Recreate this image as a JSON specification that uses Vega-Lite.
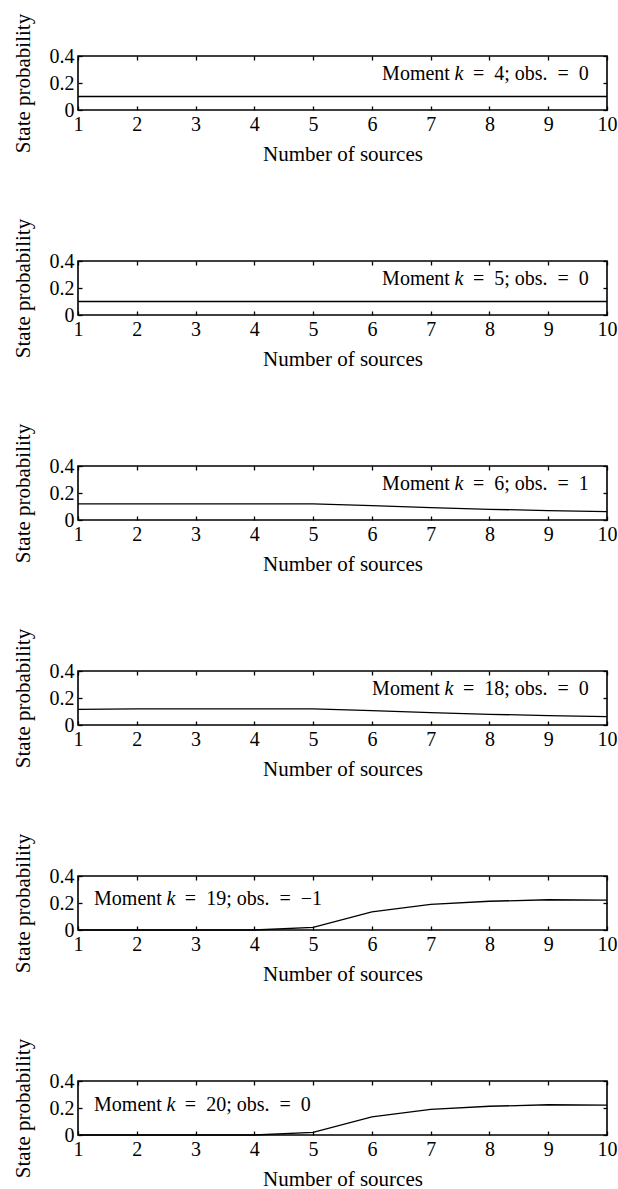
{
  "$schema": "https://vega.github.io/schema/vega-lite/v6.json",
  "padding": {"left": 11, "top": 12, "right": 0, "bottom": 0},
  "background": "white",
  "spacing": 151,
  "bounds": "flush",
  "config": {
    "view": {"stroke": "black", "strokeWidth": 1.6},
    "font": "Liberation Serif, Times New Roman, DejaVu Serif, serif",
    "text": {"font": "Liberation Serif, Times New Roman, DejaVu Serif, serif", "fontSize": 20, "color": "black", "baseline": "alphabetic"},
    "axis": {
      "grid": false,
      "domain": false,
      "labelFlush": false,
      "tickColor": "black",
      "tickWidth": 1.3,
      "tickSize": -4,
      "labelColor": "black",
      "labelFont": "Liberation Serif, Times New Roman, DejaVu Serif, serif",
      "labelFontSize": 20,
      "titleColor": "black",
      "titleFont": "Liberation Serif, Times New Roman, DejaVu Serif, serif",
      "titleFontSize": 21,
      "titleFontWeight": "normal"
    }
  },
  "datasets": {
    "lines": [
      {"panel": 1, "n": 1, "p": 0.1}, {"panel": 1, "n": 2, "p": 0.1}, {"panel": 1, "n": 3, "p": 0.1}, {"panel": 1, "n": 4, "p": 0.1}, {"panel": 1, "n": 5, "p": 0.1},
      {"panel": 1, "n": 6, "p": 0.1}, {"panel": 1, "n": 7, "p": 0.1}, {"panel": 1, "n": 8, "p": 0.1}, {"panel": 1, "n": 9, "p": 0.1}, {"panel": 1, "n": 10, "p": 0.1},
      {"panel": 2, "n": 1, "p": 0.1}, {"panel": 2, "n": 2, "p": 0.1}, {"panel": 2, "n": 3, "p": 0.1}, {"panel": 2, "n": 4, "p": 0.1}, {"panel": 2, "n": 5, "p": 0.1},
      {"panel": 2, "n": 6, "p": 0.1}, {"panel": 2, "n": 7, "p": 0.1}, {"panel": 2, "n": 8, "p": 0.1}, {"panel": 2, "n": 9, "p": 0.1}, {"panel": 2, "n": 10, "p": 0.1},
      {"panel": 3, "n": 1, "p": 0.12}, {"panel": 3, "n": 2, "p": 0.12}, {"panel": 3, "n": 3, "p": 0.12}, {"panel": 3, "n": 4, "p": 0.12}, {"panel": 3, "n": 5, "p": 0.12},
      {"panel": 3, "n": 6, "p": 0.106}, {"panel": 3, "n": 7, "p": 0.091}, {"panel": 3, "n": 8, "p": 0.079}, {"panel": 3, "n": 9, "p": 0.07}, {"panel": 3, "n": 10, "p": 0.062},
      {"panel": 4, "n": 1, "p": 0.116}, {"panel": 4, "n": 2, "p": 0.12}, {"panel": 4, "n": 3, "p": 0.12}, {"panel": 4, "n": 4, "p": 0.12}, {"panel": 4, "n": 5, "p": 0.12},
      {"panel": 4, "n": 6, "p": 0.106}, {"panel": 4, "n": 7, "p": 0.091}, {"panel": 4, "n": 8, "p": 0.079}, {"panel": 4, "n": 9, "p": 0.07}, {"panel": 4, "n": 10, "p": 0.062},
      {"panel": 5, "n": 1, "p": 0}, {"panel": 5, "n": 2, "p": 0}, {"panel": 5, "n": 3, "p": 0}, {"panel": 5, "n": 4, "p": 0}, {"panel": 5, "n": 5, "p": 0.02},
      {"panel": 5, "n": 6, "p": 0.135}, {"panel": 5, "n": 7, "p": 0.19}, {"panel": 5, "n": 8, "p": 0.213}, {"panel": 5, "n": 9, "p": 0.224}, {"panel": 5, "n": 10, "p": 0.221},
      {"panel": 6, "n": 1, "p": 0}, {"panel": 6, "n": 2, "p": 0}, {"panel": 6, "n": 3, "p": 0}, {"panel": 6, "n": 4, "p": 0}, {"panel": 6, "n": 5, "p": 0.02},
      {"panel": 6, "n": 6, "p": 0.135}, {"panel": 6, "n": 7, "p": 0.19}, {"panel": 6, "n": 8, "p": 0.213}, {"panel": 6, "n": 9, "p": 0.224}, {"panel": 6, "n": 10, "p": 0.221}
    ],
    "notes": [
      {"panel": 1, "kx": 7.48, "ky": 0.22, "pre": "Moment", "k": "k", "rest": "=\u20024; obs.\u2002=\u20020"},
      {"panel": 2, "kx": 7.48, "ky": 0.22, "pre": "Moment", "k": "k", "rest": "=\u20025; obs.\u2002=\u20020"},
      {"panel": 3, "kx": 7.48, "ky": 0.22, "pre": "Moment", "k": "k", "rest": "=\u20026; obs.\u2002=\u20021"},
      {"panel": 4, "kx": 7.31, "ky": 0.22, "pre": "Moment", "k": "k", "rest": "=\u200218; obs.\u2002=\u20020"},
      {"panel": 5, "kx": 2.58, "ky": 0.183, "pre": "Moment", "k": "k", "rest": "=\u200219; obs.\u2002=\u2002−1"},
      {"panel": 6, "kx": 2.58, "ky": 0.18, "pre": "Moment", "k": "k", "rest": "=\u200220; obs.\u2002=\u20020"}
    ]
  },
  "vconcat": [
    {"width": 529, "height": 54, "resolve": {"axis": {"x": "independent", "y": "independent"}},
     "layer": [
      {"data": {"name": "lines"}, "transform": [{"filter": "datum.panel == 1"}], "mark": {"type": "line", "color": "black", "strokeWidth": 1.3},
       "encoding": {"x": {"field": "n", "type": "quantitative", "scale": {"domain": [1, 10]}, "axis": {"values": [1,2,3,4,5,6,7,8,9,10], "labelPadding": 8, "title": "Number of sources", "titlePadding": 9}},
                    "y": {"field": "p", "type": "quantitative", "scale": {"domain": [0, 0.4]}, "axis": {"values": [0, 0.2, 0.4], "format": ".1~f", "labelPadding": 8, "title": "State probability", "titlePadding": 16}}}},
      {"data": {"name": "lines"}, "transform": [{"filter": "datum.panel == 1"}], "mark": {"type": "line", "opacity": 0},
       "encoding": {"x": {"field": "n", "type": "quantitative", "axis": {"orient": "top", "values": [1,2,3,4,5,6,7,8,9,10], "labels": false, "title": null}},
                    "y": {"field": "p", "type": "quantitative", "axis": {"orient": "right", "values": [0, 0.2, 0.4], "labels": false, "title": null}}}},
      {"data": {"name": "notes"}, "transform": [{"filter": "datum.panel == 1"}], "mark": {"type": "text", "align": "right", "dx": -9},
       "encoding": {"x": {"field": "kx", "type": "quantitative", "axis": null}, "y": {"field": "ky", "type": "quantitative", "axis": null}, "text": {"field": "pre"}}},
      {"data": {"name": "notes"}, "transform": [{"filter": "datum.panel == 1"}], "mark": {"type": "text", "align": "center", "fontStyle": "italic"},
       "encoding": {"x": {"field": "kx", "type": "quantitative", "axis": null}, "y": {"field": "ky", "type": "quantitative", "axis": null}, "text": {"field": "k"}}},
      {"data": {"name": "notes"}, "transform": [{"filter": "datum.panel == 1"}], "mark": {"type": "text", "align": "left", "dx": 14},
       "encoding": {"x": {"field": "kx", "type": "quantitative", "axis": null}, "y": {"field": "ky", "type": "quantitative", "axis": null}, "text": {"field": "rest"}}}
     ]},
    {"width": 529, "height": 54, "resolve": {"axis": {"x": "independent", "y": "independent"}},
     "layer": [
      {"data": {"name": "lines"}, "transform": [{"filter": "datum.panel == 2"}], "mark": {"type": "line", "color": "black", "strokeWidth": 1.3},
       "encoding": {"x": {"field": "n", "type": "quantitative", "scale": {"domain": [1, 10]}, "axis": {"values": [1,2,3,4,5,6,7,8,9,10], "labelPadding": 8, "title": "Number of sources", "titlePadding": 9}},
                    "y": {"field": "p", "type": "quantitative", "scale": {"domain": [0, 0.4]}, "axis": {"values": [0, 0.2, 0.4], "format": ".1~f", "labelPadding": 8, "title": "State probability", "titlePadding": 16}}}},
      {"data": {"name": "lines"}, "transform": [{"filter": "datum.panel == 2"}], "mark": {"type": "line", "opacity": 0},
       "encoding": {"x": {"field": "n", "type": "quantitative", "axis": {"orient": "top", "values": [1,2,3,4,5,6,7,8,9,10], "labels": false, "title": null}},
                    "y": {"field": "p", "type": "quantitative", "axis": {"orient": "right", "values": [0, 0.2, 0.4], "labels": false, "title": null}}}},
      {"data": {"name": "notes"}, "transform": [{"filter": "datum.panel == 2"}], "mark": {"type": "text", "align": "right", "dx": -9},
       "encoding": {"x": {"field": "kx", "type": "quantitative", "axis": null}, "y": {"field": "ky", "type": "quantitative", "axis": null}, "text": {"field": "pre"}}},
      {"data": {"name": "notes"}, "transform": [{"filter": "datum.panel == 2"}], "mark": {"type": "text", "align": "center", "fontStyle": "italic"},
       "encoding": {"x": {"field": "kx", "type": "quantitative", "axis": null}, "y": {"field": "ky", "type": "quantitative", "axis": null}, "text": {"field": "k"}}},
      {"data": {"name": "notes"}, "transform": [{"filter": "datum.panel == 2"}], "mark": {"type": "text", "align": "left", "dx": 14},
       "encoding": {"x": {"field": "kx", "type": "quantitative", "axis": null}, "y": {"field": "ky", "type": "quantitative", "axis": null}, "text": {"field": "rest"}}}
     ]},
    {"width": 529, "height": 54, "resolve": {"axis": {"x": "independent", "y": "independent"}},
     "layer": [
      {"data": {"name": "lines"}, "transform": [{"filter": "datum.panel == 3"}], "mark": {"type": "line", "color": "black", "strokeWidth": 1.3},
       "encoding": {"x": {"field": "n", "type": "quantitative", "scale": {"domain": [1, 10]}, "axis": {"values": [1,2,3,4,5,6,7,8,9,10], "labelPadding": 8, "title": "Number of sources", "titlePadding": 9}},
                    "y": {"field": "p", "type": "quantitative", "scale": {"domain": [0, 0.4]}, "axis": {"values": [0, 0.2, 0.4], "format": ".1~f", "labelPadding": 8, "title": "State probability", "titlePadding": 16}}}},
      {"data": {"name": "lines"}, "transform": [{"filter": "datum.panel == 3"}], "mark": {"type": "line", "opacity": 0},
       "encoding": {"x": {"field": "n", "type": "quantitative", "axis": {"orient": "top", "values": [1,2,3,4,5,6,7,8,9,10], "labels": false, "title": null}},
                    "y": {"field": "p", "type": "quantitative", "axis": {"orient": "right", "values": [0, 0.2, 0.4], "labels": false, "title": null}}}},
      {"data": {"name": "notes"}, "transform": [{"filter": "datum.panel == 3"}], "mark": {"type": "text", "align": "right", "dx": -9},
       "encoding": {"x": {"field": "kx", "type": "quantitative", "axis": null}, "y": {"field": "ky", "type": "quantitative", "axis": null}, "text": {"field": "pre"}}},
      {"data": {"name": "notes"}, "transform": [{"filter": "datum.panel == 3"}], "mark": {"type": "text", "align": "center", "fontStyle": "italic"},
       "encoding": {"x": {"field": "kx", "type": "quantitative", "axis": null}, "y": {"field": "ky", "type": "quantitative", "axis": null}, "text": {"field": "k"}}},
      {"data": {"name": "notes"}, "transform": [{"filter": "datum.panel == 3"}], "mark": {"type": "text", "align": "left", "dx": 14},
       "encoding": {"x": {"field": "kx", "type": "quantitative", "axis": null}, "y": {"field": "ky", "type": "quantitative", "axis": null}, "text": {"field": "rest"}}}
     ]},
    {"width": 529, "height": 54, "resolve": {"axis": {"x": "independent", "y": "independent"}},
     "layer": [
      {"data": {"name": "lines"}, "transform": [{"filter": "datum.panel == 4"}], "mark": {"type": "line", "color": "black", "strokeWidth": 1.3},
       "encoding": {"x": {"field": "n", "type": "quantitative", "scale": {"domain": [1, 10]}, "axis": {"values": [1,2,3,4,5,6,7,8,9,10], "labelPadding": 8, "title": "Number of sources", "titlePadding": 9}},
                    "y": {"field": "p", "type": "quantitative", "scale": {"domain": [0, 0.4]}, "axis": {"values": [0, 0.2, 0.4], "format": ".1~f", "labelPadding": 8, "title": "State probability", "titlePadding": 16}}}},
      {"data": {"name": "lines"}, "transform": [{"filter": "datum.panel == 4"}], "mark": {"type": "line", "opacity": 0},
       "encoding": {"x": {"field": "n", "type": "quantitative", "axis": {"orient": "top", "values": [1,2,3,4,5,6,7,8,9,10], "labels": false, "title": null}},
                    "y": {"field": "p", "type": "quantitative", "axis": {"orient": "right", "values": [0, 0.2, 0.4], "labels": false, "title": null}}}},
      {"data": {"name": "notes"}, "transform": [{"filter": "datum.panel == 4"}], "mark": {"type": "text", "align": "right", "dx": -9},
       "encoding": {"x": {"field": "kx", "type": "quantitative", "axis": null}, "y": {"field": "ky", "type": "quantitative", "axis": null}, "text": {"field": "pre"}}},
      {"data": {"name": "notes"}, "transform": [{"filter": "datum.panel == 4"}], "mark": {"type": "text", "align": "center", "fontStyle": "italic"},
       "encoding": {"x": {"field": "kx", "type": "quantitative", "axis": null}, "y": {"field": "ky", "type": "quantitative", "axis": null}, "text": {"field": "k"}}},
      {"data": {"name": "notes"}, "transform": [{"filter": "datum.panel == 4"}], "mark": {"type": "text", "align": "left", "dx": 14},
       "encoding": {"x": {"field": "kx", "type": "quantitative", "axis": null}, "y": {"field": "ky", "type": "quantitative", "axis": null}, "text": {"field": "rest"}}}
     ]},
    {"width": 529, "height": 54, "resolve": {"axis": {"x": "independent", "y": "independent"}},
     "layer": [
      {"data": {"name": "lines"}, "transform": [{"filter": "datum.panel == 5"}], "mark": {"type": "line", "color": "black", "strokeWidth": 1.3},
       "encoding": {"x": {"field": "n", "type": "quantitative", "scale": {"domain": [1, 10]}, "axis": {"values": [1,2,3,4,5,6,7,8,9,10], "labelPadding": 8, "title": "Number of sources", "titlePadding": 9}},
                    "y": {"field": "p", "type": "quantitative", "scale": {"domain": [0, 0.4]}, "axis": {"values": [0, 0.2, 0.4], "format": ".1~f", "labelPadding": 8, "title": "State probability", "titlePadding": 16}}}},
      {"data": {"name": "lines"}, "transform": [{"filter": "datum.panel == 5"}], "mark": {"type": "line", "opacity": 0},
       "encoding": {"x": {"field": "n", "type": "quantitative", "axis": {"orient": "top", "values": [1,2,3,4,5,6,7,8,9,10], "labels": false, "title": null}},
                    "y": {"field": "p", "type": "quantitative", "axis": {"orient": "right", "values": [0, 0.2, 0.4], "labels": false, "title": null}}}},
      {"data": {"name": "notes"}, "transform": [{"filter": "datum.panel == 5"}], "mark": {"type": "text", "align": "right", "dx": -9},
       "encoding": {"x": {"field": "kx", "type": "quantitative", "axis": null}, "y": {"field": "ky", "type": "quantitative", "axis": null}, "text": {"field": "pre"}}},
      {"data": {"name": "notes"}, "transform": [{"filter": "datum.panel == 5"}], "mark": {"type": "text", "align": "center", "fontStyle": "italic"},
       "encoding": {"x": {"field": "kx", "type": "quantitative", "axis": null}, "y": {"field": "ky", "type": "quantitative", "axis": null}, "text": {"field": "k"}}},
      {"data": {"name": "notes"}, "transform": [{"filter": "datum.panel == 5"}], "mark": {"type": "text", "align": "left", "dx": 14},
       "encoding": {"x": {"field": "kx", "type": "quantitative", "axis": null}, "y": {"field": "ky", "type": "quantitative", "axis": null}, "text": {"field": "rest"}}}
     ]},
    {"width": 529, "height": 54, "resolve": {"axis": {"x": "independent", "y": "independent"}},
     "layer": [
      {"data": {"name": "lines"}, "transform": [{"filter": "datum.panel == 6"}], "mark": {"type": "line", "color": "black", "strokeWidth": 1.3},
       "encoding": {"x": {"field": "n", "type": "quantitative", "scale": {"domain": [1, 10]}, "axis": {"values": [1,2,3,4,5,6,7,8,9,10], "labelPadding": 8, "title": "Number of sources", "titlePadding": 9}},
                    "y": {"field": "p", "type": "quantitative", "scale": {"domain": [0, 0.4]}, "axis": {"values": [0, 0.2, 0.4], "format": ".1~f", "labelPadding": 8, "title": "State probability", "titlePadding": 16}}}},
      {"data": {"name": "lines"}, "transform": [{"filter": "datum.panel == 6"}], "mark": {"type": "line", "opacity": 0},
       "encoding": {"x": {"field": "n", "type": "quantitative", "axis": {"orient": "top", "values": [1,2,3,4,5,6,7,8,9,10], "labels": false, "title": null}},
                    "y": {"field": "p", "type": "quantitative", "axis": {"orient": "right", "values": [0, 0.2, 0.4], "labels": false, "title": null}}}},
      {"data": {"name": "notes"}, "transform": [{"filter": "datum.panel == 6"}], "mark": {"type": "text", "align": "right", "dx": -9},
       "encoding": {"x": {"field": "kx", "type": "quantitative", "axis": null}, "y": {"field": "ky", "type": "quantitative", "axis": null}, "text": {"field": "pre"}}},
      {"data": {"name": "notes"}, "transform": [{"filter": "datum.panel == 6"}], "mark": {"type": "text", "align": "center", "fontStyle": "italic"},
       "encoding": {"x": {"field": "kx", "type": "quantitative", "axis": null}, "y": {"field": "ky", "type": "quantitative", "axis": null}, "text": {"field": "k"}}},
      {"data": {"name": "notes"}, "transform": [{"filter": "datum.panel == 6"}], "mark": {"type": "text", "align": "left", "dx": 14},
       "encoding": {"x": {"field": "kx", "type": "quantitative", "axis": null}, "y": {"field": "ky", "type": "quantitative", "axis": null}, "text": {"field": "rest"}}}
     ]}
  ]
}
